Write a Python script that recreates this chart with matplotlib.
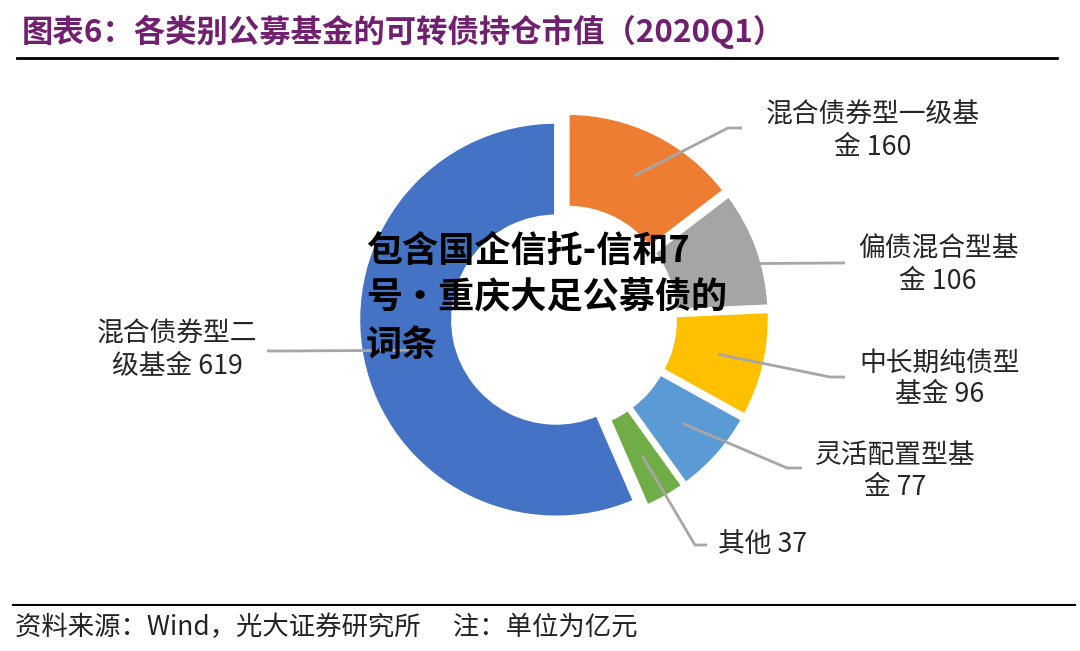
import math
import matplotlib
matplotlib.use("Agg")
import matplotlib.pyplot as plt

plt.rcParams['font.family'] = ['Noto Sans CJK SC', 'DejaVu Sans']

W, H = 1080, 651

# 数据 (单位: 亿元)
labels = ['混合债券型一级基\n金 160', '偏债混合型基\n金 106', '中长期纯债型\n基金 96',
          '灵活配置型基\n金 77', '其他 37', '混合债券型二\n级基金 619']
values = [160, 106, 96, 77, 37, 619]
colors = ['#ED7D31', '#A5A5A5', '#FFC000', '#5B9BD5', '#70AD47', '#4472C4']

# 标签位置 (像素, 从上往下)
label_pos = [(873, 131), (938, 265), (940, 379), (895, 471), (718, 545), (177, 350)]
label_ha = ['center', 'center', 'center', 'center', 'left', 'center']
elbow_pos = [(728, 128), (835, 263), (830, 377), (787, 468), (695, 545), (282, 351)]
end_pos = [(742, 128), (845, 263), (845, 377), (802, 468), (707, 545), (267, 351)]

CX, CY = 564, 318
R = 198
RING = 95
EXPL = 8


def fy(y):
    # 像素坐标 -> 数据坐标
    return H - y


def main():
    fig = plt.figure(figsize=(W / 100, H / 100), dpi=100)
    ax = fig.add_axes([0, 0, 1, 1])

    wedges, _ = ax.pie(values, center=(CX, fy(CY)), radius=R, startangle=90,
                       counterclock=False, colors=colors,
                       explode=[EXPL] * len(values),
                       wedgeprops=dict(width=RING, edgecolor='white', linewidth=3))

    ax.set_xlim(0, W)
    ax.set_ylim(0, H)
    ax.set_aspect('equal')
    ax.axis('off')

    # 引导线
    total = sum(values)
    theta = 90.0
    for i, v in enumerate(values):
        span = v / total * 360
        mid = math.radians(theta - span / 2)
        theta -= span
        r = EXPL + R - RING / 2
        sx = CX + r * math.cos(mid)
        sy = fy(CY) + r * math.sin(mid)
        ex, ey = elbow_pos[i]
        tx, ty = end_pos[i]
        ax.plot([sx, ex, tx], [sy, fy(ey), fy(ty)], color='#A6A6A6', lw=2,
                solid_capstyle='butt', zorder=3)
        lx, ly = label_pos[i]
        ax.text(lx, fy(ly), labels[i], ha=label_ha[i], va='center',
                fontsize=19.3, color='#262626', linespacing=1.25, zorder=4)

    # 标题
    ax.text(22, fy(32), '图表6：各类别公募基金的可转债持仓市值（2020Q1）',
            fontsize=22.6, fontweight='bold', color='#70206F', ha='left', va='center')
    ax.plot([17, 1057], [fy(58), fy(58)], color='black', lw=2)

    # 脚注
    ax.plot([13, 1075], [fy(605), fy(605)], color='black', lw=1.5)
    ax.text(15, fy(627), '资料来源：Wind，光大证券研究所　 注：单位为亿元',
            fontsize=19, color='#222222', ha='left', va='center')

    # 水印文字
    ax.text(366, fy(298), '包含国企信托-信和7\n号·重庆大足公募债的\n词条',
            fontsize=26, fontweight='heavy', color='black', ha='left', va='center',
            linespacing=1.35, zorder=6)

    fig.savefig('out.png', dpi=100)


if __name__ == "__main__":
    main()
